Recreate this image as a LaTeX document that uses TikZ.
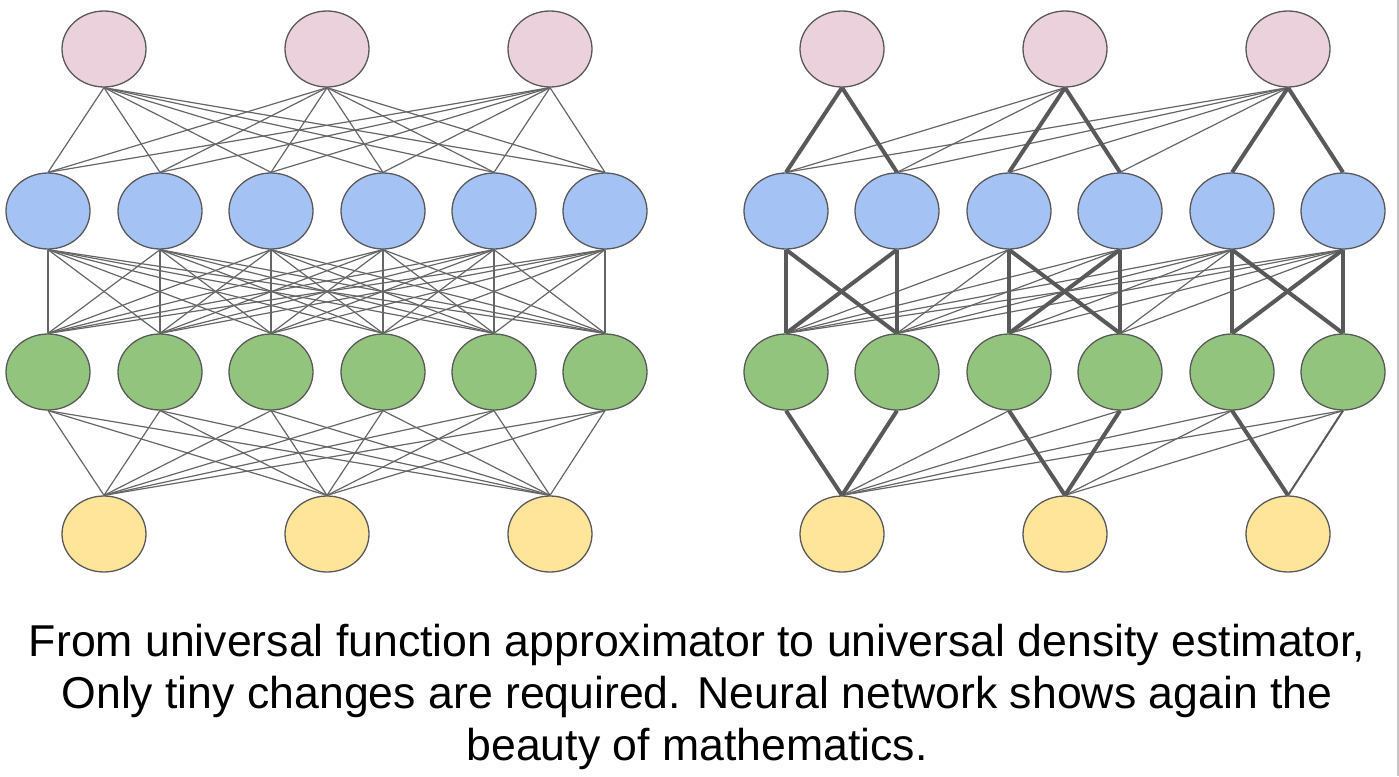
\documentclass[tikz,border=0pt]{standalone}
\usepackage{fontspec}
\setmainfont{Liberation Sans}
\usetikzlibrary{shapes.geometric,backgrounds}
\definecolor{cpink}{HTML}{EAD1DC}
\definecolor{cblue}{HTML}{A4C2F4}
\definecolor{cgreen}{HTML}{93C47D}
\definecolor{cyellow}{HTML}{FFE599}
\definecolor{edgec}{HTML}{595959}
\definecolor{linec}{HTML}{666666}
\begin{document}
\begin{tikzpicture}[x=1pt,y=-1pt,
  neuron/.style={ellipse,draw=edgec,line width=1.3pt,minimum width=84pt,minimum height=76pt,inner sep=0pt},
  wthin/.style={draw=linec,line width=1.2pt},
  wmid/.style={draw=edgec,line width=2pt},
  wthick/.style={draw=edgec,line width=4pt},
  captxt/.style={anchor=base,font=\fontsize{44.6}{52}\selectfont,inner sep=0pt}
]
\useasboundingbox (0,0) rectangle (1399,776);
\draw[draw=black!22,line width=1.5pt] (1398,0) coordinate (bt) -- (1398,776) coordinate (bb);
% left network nodes
\foreach \x [count=\i] in {104,327,550} \node[neuron,fill=cpink] (LP\i) at (\x,49) {};
\foreach \x [count=\i] in {48,160,271,383,494,605} \node[neuron,fill=cblue] (LB\i) at (\x,211) {};
\foreach \x [count=\i] in {48,160,271,383,494,605} \node[neuron,fill=cgreen] (LG\i) at (\x,372) {};
\foreach \x [count=\i] in {104,327,550} \node[neuron,fill=cyellow] (LY\i) at (\x,534) {};
% right network nodes
\foreach \x [count=\i] in {842,1065,1288} \node[neuron,fill=cpink] (RP\i) at (\x,49) {};
\foreach \x [count=\i] in {786,897,1009,1120,1232,1343} \node[neuron,fill=cblue] (RB\i) at (\x,211) {};
\foreach \x [count=\i] in {786,897,1009,1120,1232,1343} \node[neuron,fill=cgreen] (RG\i) at (\x,372) {};
\foreach \x [count=\i] in {842,1065,1288} \node[neuron,fill=cyellow] (RY\i) at (\x,534) {};
\begin{pgfonlayer}{background}
% left: fully connected
\foreach \i in {1,2,3} \foreach \j in {1,...,6} \draw[wthin] (LP\i.south) -- (LB\j.north);
\foreach \i in {1,...,6} \foreach \j in {1,...,6} \draw[wthin] (LB\i.south) -- (LG\j.north);
\foreach \i in {1,...,6} \foreach \j in {1,2,3} \draw[wthin] (LG\i.south) -- (LY\j.north);
% right: masked
\foreach \i/\j in {2/1,2/2,3/1,3/2,3/3,3/4} \draw[wthin] (RP\i.south) -- (RB\j.north);
\foreach \i/\j in {1/1,1/2,2/3,2/4,3/5,3/6} \draw[wthick] (RP\i.south) -- (RB\j.north);
\foreach \i/\j in {3/1,3/2,4/1,4/2,5/1,5/2,6/1,6/2,5/3,5/4,6/3,6/4} \draw[wthin] (RB\i.south) -- (RG\j.north);
\foreach \i/\j in {1/1,1/2,2/1,2/2,3/3,3/4,4/3,4/4,5/5,5/6,6/5,6/6} \draw[wthick] (RB\i.south) -- (RG\j.north);
\foreach \i/\j in {3/1,4/1,5/1,6/1,5/2,6/2} \draw[wthin] (RG\i.south) -- (RY\j.north);
\foreach \i/\j in {1/1,2/1,3/2,4/2,5/3} \draw[wthick] (RG\i.south) -- (RY\j.north);
\draw[wmid] (RG6.south) -- (RY3.north);
\end{pgfonlayer}
% caption
\node[captxt] (cap1) at (697,656) {From universal function approximator to universal density estimator,};
\node[captxt] (cap2) at (697,708) {Only tiny changes are required. Neural network shows again the};
\node[captxt] (cap3) at (697,760) {beauty of mathematics.};
\end{tikzpicture}
\end{document}
